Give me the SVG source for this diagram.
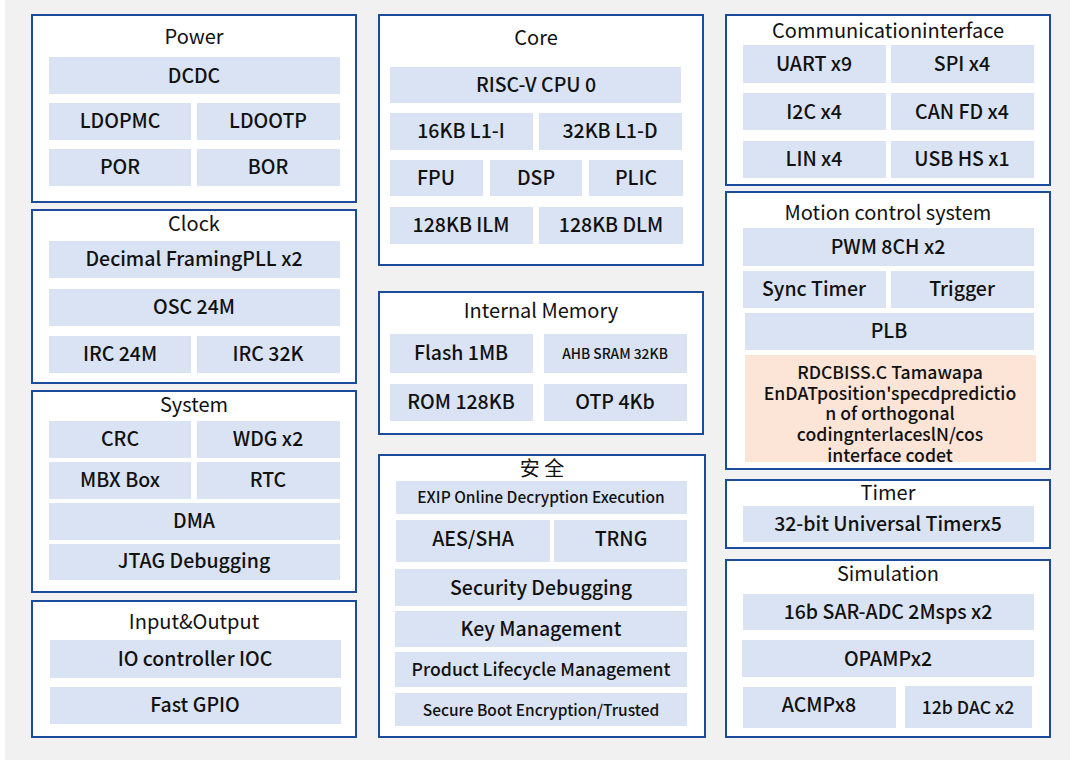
<svg xmlns="http://www.w3.org/2000/svg" width="1076" height="760" viewBox="0 0 1076 760">
<style>
.bg{fill:#f1f1f1}
.panel{fill:#ffffff;stroke:#1a4b9c;stroke-width:2}
.item{fill:#dae3f3}
.orange{fill:#fce4d6}
text{font-family:"Noto Sans CJK SC","Noto Sans",sans-serif;font-weight:500;fill:#111111;text-anchor:middle;dominant-baseline:central;transform:translateY(-1.5px)}
.t{font-size:20px;font-weight:400}
.i{font-size:19.5px}
.s13{font-size:13.8px}
.s15{font-size:15.5px}
.s17{font-size:17.6px}
.o{font-size:17.6px}
</style>
<rect x="0" y="0" width="1076" height="760" fill="#ffffff"/>
<rect class="bg" x="5" y="0" width="1065" height="760"/>

<g id="power">
<rect class="panel" x="32" y="15" width="324" height="187"/>
<text class="t" x="194" y="37">Power</text>
<rect class="item" x="49" y="57" width="291" height="37"/><text class="i" x="194" y="76">DCDC</text>
<rect class="item" x="49" y="103" width="142" height="37"/><text class="i" x="120" y="121">LDOPMC</text>
<rect class="item" x="197" y="103" width="143" height="37"/><text class="i" x="268" y="121">LDOOTP</text>
<rect class="item" x="49" y="149" width="142" height="37"/><text class="i" x="120" y="167">POR</text>
<rect class="item" x="197" y="149" width="143" height="37"/><text class="i" x="268" y="167">BOR</text>
</g>

<g id="clock">
<rect class="panel" x="32" y="210" width="324" height="173"/>
<text class="t" x="194" y="224">Clock</text>
<rect class="item" x="49" y="241" width="291" height="37"/><text class="i" x="194" y="259">Decimal FramingPLL x2</text>
<rect class="item" x="49" y="289" width="291" height="37"/><text class="i" x="194" y="307">OSC 24M</text>
<rect class="item" x="49" y="336" width="142" height="37"/><text class="i" x="120" y="354">IRC 24M</text>
<rect class="item" x="197" y="336" width="143" height="37"/><text class="i" x="268" y="354">IRC 32K</text>
</g>

<g id="system">
<rect class="panel" x="32" y="391" width="324" height="201"/>
<text class="t" x="194" y="405">System</text>
<rect class="item" x="49" y="421" width="142" height="37"/><text class="i" x="120" y="439">CRC</text>
<rect class="item" x="197" y="421" width="143" height="37"/><text class="i" x="268" y="439">WDG x2</text>
<rect class="item" x="49" y="462" width="142" height="37"/><text class="i" x="120" y="480">MBX Box</text>
<rect class="item" x="197" y="462" width="143" height="37"/><text class="i" x="268" y="480">RTC</text>
<rect class="item" x="49" y="503" width="291" height="37"/><text class="i" x="194" y="521">DMA</text>
<rect class="item" x="49" y="544" width="291" height="36"/><text class="i" x="194" y="561">JTAG Debugging</text>
</g>

<g id="io">
<rect class="panel" x="32" y="601" width="324" height="136"/>
<text class="t" x="194" y="622">Input&amp;Output</text>
<rect class="item" x="50" y="640" width="291" height="38"/><text class="i" x="195" y="659">IO controller IOC</text>
<rect class="item" x="50" y="687" width="291" height="37"/><text class="i" x="195" y="705">Fast GPIO</text>
</g>

<g id="core">
<rect class="panel" x="379" y="15" width="324" height="250"/>
<text class="t" x="536" y="38">Core</text>
<rect class="item" x="390" y="67" width="291" height="36"/><text class="i" x="536" y="85">RISC-V CPU 0</text>
<rect class="item" x="390" y="113" width="143" height="37"/><text class="i" x="461" y="131">16KB L1-I</text>
<rect class="item" x="539" y="113" width="143" height="37"/><text class="i" x="610" y="131">32KB L1-D</text>
<rect class="item" x="390" y="160" width="93" height="36"/><text class="i" x="436" y="178">FPU</text>
<rect class="item" x="490" y="160" width="92" height="36"/><text class="i" x="536" y="178">DSP</text>
<rect class="item" x="589" y="160" width="94" height="36"/><text class="i" x="636" y="178">PLIC</text>
<rect class="item" x="390" y="207" width="143" height="37"/><text class="i" x="461" y="225">128KB ILM</text>
<rect class="item" x="539" y="207" width="144" height="37"/><text class="i" x="611" y="225">128KB DLM</text>
</g>

<g id="memory">
<rect class="panel" x="379" y="292" width="324" height="142"/>
<text class="t" x="541" y="311">Internal Memory</text>
<rect class="item" x="390" y="334" width="143" height="39"/><text class="i" x="461" y="353">Flash 1MB</text>
<rect class="item" x="544" y="334" width="143" height="39"/><text class="s13" x="615" y="354">AHB SRAM 32KB</text>
<rect class="item" x="390" y="384" width="143" height="37"/><text class="i" x="461" y="402">ROM 128KB</text>
<rect class="item" x="544" y="384" width="143" height="37"/><text class="i" x="615" y="402">OTP 4Kb</text>
</g>

<g id="security">
<rect class="panel" x="379" y="455" width="326" height="282"/>
<text class="t" x="542" y="469">安 全</text>
<rect class="item" x="396" y="481" width="291" height="33"/><text class="s15" x="541" y="497">EXIP Online Decryption Execution</text>
<rect class="item" x="396" y="520" width="154" height="42"/><text class="i" x="473" y="539">AES/SHA</text>
<rect class="item" x="554" y="520" width="133" height="42"/><text class="i" x="621" y="539">TRNG</text>
<rect class="item" x="395" y="569" width="292" height="37"/><text class="i" x="541" y="588">Security Debugging</text>
<rect class="item" x="395" y="611" width="292" height="36"/><text class="i" x="541" y="629">Key Management</text>
<rect class="item" x="395" y="652" width="292" height="35"/><text class="s17" x="541" y="670">Product Lifecycle Management</text>
<rect class="item" x="395" y="693" width="292" height="33"/><text class="s15" x="541" y="710">Secure Boot Encryption/Trusted</text>
</g>

<g id="comm">
<rect class="panel" x="726" y="15" width="324" height="170"/>
<text class="t" x="888" y="31">Communicationinterface</text>
<rect class="item" x="743" y="45" width="143" height="38"/><text class="i" x="814" y="64">UART x9</text>
<rect class="item" x="891" y="45" width="143" height="38"/><text class="i" x="962" y="64">SPI x4</text>
<rect class="item" x="743" y="93" width="143" height="37"/><text class="i" x="814" y="112">I2C x4</text>
<rect class="item" x="891" y="93" width="143" height="37"/><text class="i" x="962" y="112">CAN FD x4</text>
<rect class="item" x="743" y="141" width="143" height="37"/><text class="i" x="814" y="159">LIN x4</text>
<rect class="item" x="891" y="141" width="143" height="37"/><text class="i" x="962" y="159">USB HS x1</text>
</g>

<g id="motion">
<rect class="panel" x="726" y="192" width="324" height="277"/>
<text class="t" x="888" y="213">Motion control system</text>
<rect class="item" x="743" y="228" width="291" height="38"/><text class="i" x="888" y="247">PWM 8CH x2</text>
<rect class="item" x="743" y="271" width="143" height="37"/><text class="i" x="814" y="289">Sync Timer</text>
<rect class="item" x="891" y="271" width="143" height="37"/><text class="i" x="962" y="289">Trigger</text>
<rect class="item" x="745" y="313" width="289" height="37"/><text class="i" x="889" y="331">PLB</text>
<rect class="orange" x="745" y="355" width="291" height="107"/>
<text class="o" x="890" y="373">RDCBISS.C Tamawapa</text>
<text class="o" x="890" y="394">EnDATposition'specdpredictio</text>
<text class="o" x="890" y="414">n of orthogonal</text>
<text class="o" x="890" y="435">codingnterlaceslN/cos</text>
<text class="o" x="890" y="456">interface codet</text>
</g>

<g id="timer">
<rect class="panel" x="726" y="480" width="324" height="68"/>
<text class="t" x="888" y="493">Timer</text>
<rect class="item" x="743" y="506" width="291" height="36"/><text class="i" x="888" y="524">32-bit Universal Timerx5</text>
</g>

<g id="simulation">
<rect class="panel" x="726" y="560" width="324" height="177"/>
<text class="t" x="888" y="574">Simulation</text>
<rect class="item" x="743" y="594" width="291" height="36"/><text class="i" x="888" y="612">16b SAR-ADC 2Msps x2</text>
<rect class="item" x="742" y="640" width="292" height="37"/><text class="i" x="888" y="659">OPAMPx2</text>
<rect class="item" x="743" y="687" width="153" height="41"/><text class="i" x="819" y="705">ACMPx8</text>
<rect class="item" x="905" y="686" width="127" height="42"/><text class="s17" x="968" y="708">12b DAC x2</text>
</g>

<g id="connectors"></g>
</svg>
